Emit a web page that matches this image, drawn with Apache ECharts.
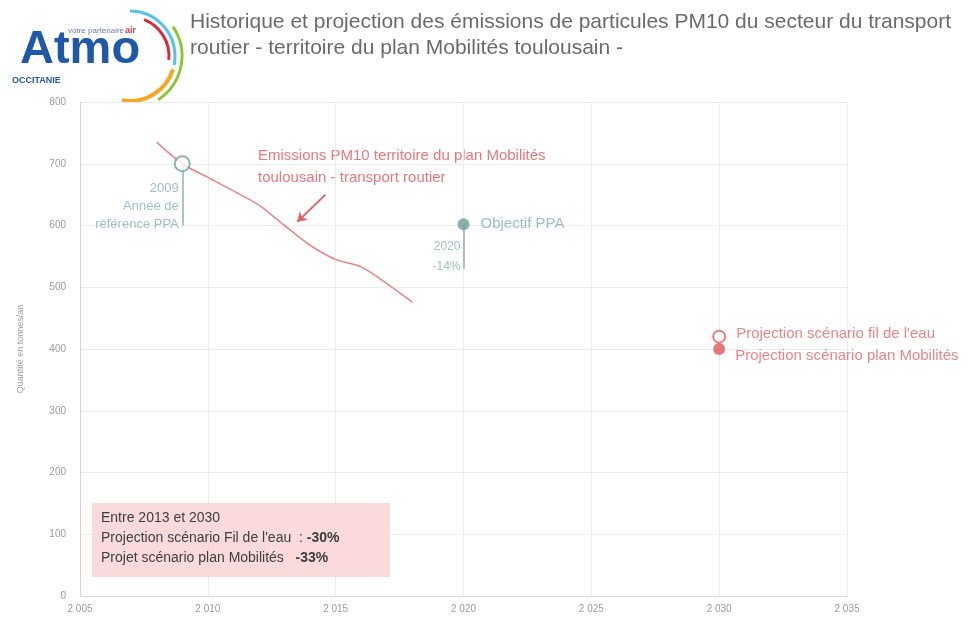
<!DOCTYPE html>
<html>
<head>
<meta charset="utf-8">
<script src="https://cdn.jsdelivr.net/npm/echarts@6/dist/echarts.min.js"></script>
<style>
  html, body { margin: 0; padding: 0; background: #fff; }
  #chart { width: 974px; height: 621px; }
</style>
</head>
<body>
<div id="chart"></div>
<script>
// historique des émissions (t/an)
const years = [2008, 2009, 2010, 2011, 2012, 2013, 2014, 2015, 2016, 2017, 2018]
const emissions = [735, 700, 678, 656, 633, 600, 568, 545, 533, 506, 476]

const refPoint = [2009, 700]      // année de référence PPA
const refTickEnd = 600
const objPoint = [2020, 602]      // objectif PPA (-14%)
const objTickEnd = 530
const projFilEau = [2030, 420]
const projMobilites = [2030, 400]

const xTicks = [2005, 2010, 2015, 2020, 2025, 2030, 2035]
const yTicks = [0, 100, 200, 300, 400, 500, 600, 700, 800]

const FONT = "'Liberation Sans', Arial, sans-serif"
const red = '#e0676b'

const chart = echarts.init(document.getElementById('chart'))

chart.setOption({
  animation: false,
  textStyle: { fontFamily: FONT },
  grid: { left: 80, right: 127, top: 102, bottom: 25 },
  xAxis: {
    type: 'value',
    min: xTicks[0],
    max: xTicks[xTicks.length - 1],
    interval: 5,
    axisLine: { show: true, lineStyle: { color: '#d4d4d4' } },
    axisTick: { show: false },
    splitLine: { lineStyle: { color: '#ebebeb' } },
    axisLabel: {
      color: '#9a9a9a', fontSize: 10, margin: 8,
      formatter: v => String(v).replace(/(\d)(\d{3})$/, '$1 $2')
    }
  },
  yAxis: {
    type: 'value',
    min: yTicks[0],
    max: yTicks[yTicks.length - 1],
    interval: 100,
    name: 'Quantité en tonnes/an',
    nameLocation: 'middle',
    nameGap: 55,
    nameRotate: 90,
    nameTextStyle: { color: '#9a9a9a', fontSize: 9 },
    axisLine: { show: true, lineStyle: { color: '#d4d4d4' } },
    axisTick: { show: false },
    splitLine: { lineStyle: { color: '#ebebeb' } },
    axisLabel: { color: '#9a9a9a', fontSize: 10, margin: 14 }
  },
  series: [
    {
      name: 'Emissions',
      type: 'line',
      data: years.map((y, i) => [y, emissions[i]]),
      smooth: 0.3,
      showSymbol: false,
      lineStyle: { color: '#e5878a', width: 1.6 },
      z: 2,
      markLine: {
        silent: true,
        symbol: ['none', 'arrow'],
        symbolSize: 9,
        label: { show: false },
        lineStyle: { color: '#d9676b', width: 2, type: 'solid' },
        data: [[{ coord: [2014.6, 650] }, { coord: [2013.5, 606] }]]
      }
    },
    {
      name: 'Référence',
      type: 'scatter',
      data: [{
        value: refPoint,
        label: {
          show: true,
          formatter: '2009\nAnnée de\nréférence PPA',
          position: [5, 24],
          align: 'right',
          verticalAlign: 'top',
          color: '#86b1ae',
          fontSize: 13,
          lineHeight: 18
        }
      }],
      symbol: 'circle',
      symbolSize: 15,
      itemStyle: { color: '#fff', borderColor: '#76a09d', borderWidth: 2 },
      z: 5,
      markLine: {
        silent: true,
        symbol: 'none',
        label: { show: false },
        lineStyle: { color: '#8db3b0', width: 1.5, type: 'solid' },
        data: [[{ coord: refPoint }, { coord: [refPoint[0], refTickEnd] }]]
      }
    },
    {
      name: 'Objectif PPA',
      type: 'scatter',
      data: [{
        value: objPoint,
        label: {
          show: true,
          formatter: 'Objectif PPA',
          position: 'right',
          distance: 11,
          color: '#84b0ad',
          fontSize: 15
        }
      }],
      symbolSize: 12,
      itemStyle: { color: '#6f9e98' },
      z: 5,
      markLine: {
        silent: true,
        symbol: 'none',
        label: { show: false },
        lineStyle: { color: '#8db3b0', width: 1.5, type: 'solid' },
        data: [[{ coord: objPoint }, { coord: [objPoint[0], objTickEnd] }]]
      }
    },
    {
      name: 'Objectif PPA détail',
      type: 'scatter',
      symbolSize: 0,
      silent: true,
      data: [{
        value: objPoint,
        label: {
          show: true,
          formatter: '2020\n-14%',
          position: [-3, 12],
          align: 'right',
          verticalAlign: 'top',
          color: '#86b1ae',
          fontSize: 12,
          lineHeight: 20
        }
      }]
    },
    {
      name: 'Projection fil de l\'eau',
      type: 'scatter',
      data: [{
        value: projFilEau,
        label: {
          show: true,
          formatter: 'Projection scénario fil de l\'eau',
          position: 'right',
          distance: 10,
          offset: [0, -3],
          color: red,
          fontSize: 15
        }
      }],
      symbolSize: 12,
      itemStyle: { color: '#fff', borderColor: '#e25c60', borderWidth: 2 },
      z: 4
    },
    {
      name: 'Projection plan Mobilités',
      type: 'scatter',
      data: [{
        value: projMobilites,
        label: {
          show: true,
          formatter: 'Projection scénario plan Mobilités',
          position: 'right',
          distance: 10,
          offset: [0, 7],
          color: red,
          fontSize: 15
        }
      }],
      symbolSize: 12,
      itemStyle: { color: '#e0575b' },
      z: 5
    }
  ],
  graphic: [
    // titre
    {
      type: 'text', left: 190, top: 9,
      style: {
        text: 'Historique et projection des émissions de particules PM10 du secteur du transport\nroutier - territoire du plan Mobilités toulousain -',
        font: '21px ' + FONT, fill: '#6a6a6a', lineHeight: 26
      }
    },
    // logo Atmo
    {
      type: 'text', left: 20, top: 27,
      style: { text: 'Atmo', font: 'bold 47px Arial, sans-serif', fill: '#1f58a6' }
    },
    {
      type: 'text', left: 68, top: 27,
      style: { text: 'votre partenaire', font: '8px ' + FONT, fill: '#6b7aa8' }
    },
    {
      type: 'text', left: 125, top: 26,
      style: { text: 'air', font: 'bold 9px ' + FONT, fill: '#d63a3f' }
    },
    {
      type: 'text', left: 12, top: 76,
      style: { text: 'OCCITANIE', font: 'bold 9px Arial, sans-serif', fill: '#1f58a6' }
    },
    {
      type: 'arc', shape: { cx: 130, cy: 56, r: 45, startAngle: -1.57, endAngle: 0.2 },
      style: { stroke: '#55c3ea', lineWidth: 3, fill: null }
    },
    {
      type: 'arc', shape: { cx: 130, cy: 56, r: 39, startAngle: -1.2, endAngle: 0.1 },
      style: { stroke: '#d52c3c', lineWidth: 3, fill: null }
    },
    {
      type: 'arc', shape: { cx: 130, cy: 56, r: 52, startAngle: -0.6, endAngle: 1.0 },
      style: { stroke: '#8cc63f', lineWidth: 3, fill: null }
    },
    {
      type: 'arc', shape: { cx: 130, cy: 56, r: 45, startAngle: 0.3, endAngle: 1.75 },
      style: { stroke: '#f5a623', lineWidth: 4, fill: null }
    },
    // annotation de la courbe
    {
      type: 'text', left: 258, top: 145,
      style: {
        text: 'Emissions PM10 territoire du plan Mobilités\ntoulousain - transport routier',
        font: '15px ' + FONT, fill: '#e6777b', lineHeight: 22
      }
    },
    // encadré
    {
      type: 'rect', left: 92, top: 503, z: 10,
      shape: { width: 298, height: 74 },
      style: { fill: '#fadadb' }
    },
    {
      type: 'text', left: 101, top: 508, z: 11,
      style: {
        text: 'Entre 2013 et 2030\nProjection scénario Fil de l\'eau  : {b|-30%}\nProjet scénario plan Mobilités   {b|-33%}',
        font: '14px ' + FONT, fill: '#3d3d3d', lineHeight: 20,
        rich: { b: { fontWeight: 'bold', fontSize: 14, fontFamily: FONT, fill: '#3d3d3d' } }
      }
    }
  ]
})
</script>
</body>
</html>
